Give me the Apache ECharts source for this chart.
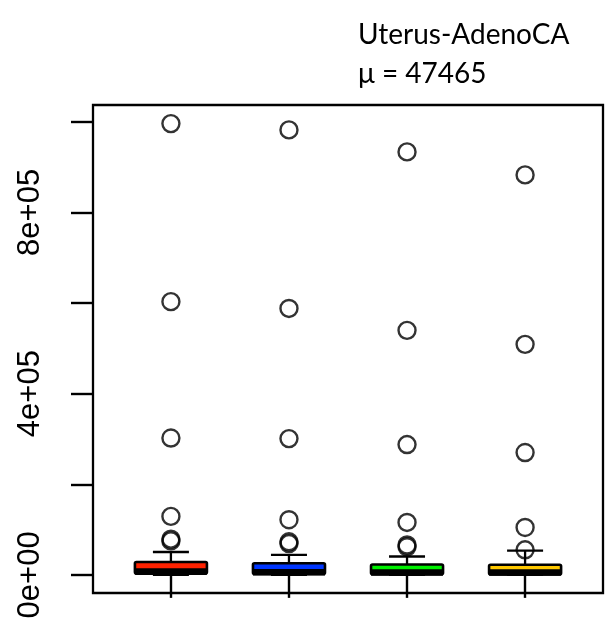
<!DOCTYPE html>
<html>
<head>
<meta charset="utf-8">
<script src="https://cdn.jsdelivr.net/npm/echarts@6/dist/echarts.min.js"></script>
<style>
  html, body { margin: 0; padding: 0; background: #fff; }
  #chart { width: 606px; height: 630px; }
</style>
</head>
<body>
<div id="chart"></div>
<script>
// Group positions along the x axis and their box fill colours
const groups = [1, 2, 3, 4];
const boxColors = ['#ff2200', '#0036ff', '#00f000', '#ffc800'];

// Five-number summaries per group: lower whisker, Q1, median, Q3, upper whisker
const lowerWhisker = [0, 0, 0, 0];
const q1Values = [2800, 2200, 1500, 1000];
const medianValues = [7500, 6000, 5500, 5000];
const q3Values = [28500, 25500, 23000, 22500];
const upperWhisker = [50500, 44000, 40500, 53500];

// Outlying points per group
const outliers = [
  [75000, 79000, 129000, 302000, 603000, 996000],
  [69000, 73000, 121700, 300800, 588000, 982000],
  [62000, 66000, 115700, 287600, 539700, 933500],
  [55300, 104600, 270000, 508800, 882700]
];

// Y axis ticks and the labels printed on some of them
const yTicks = [0, 200000, 400000, 600000, 800000, 1000000];
const yLabelTicks = [0, 400000, 800000];
const yLabelText = { 0: '0e+00', 400000: '4e+05', 800000: '8e+05' };

const titleLine = 'Uterus-AdenoCA';
const meanLine = 'μ = 47465';

const boxData = groups.map((g, i) => [g, lowerWhisker[i], q1Values[i], medianValues[i], q3Values[i], upperWhisker[i]]);
const pointData = [];
outliers.forEach((vals, i) => vals.forEach(v => pointData.push([groups[i], v])));

const BOX_WIDTH = 0.61;

function renderBox(params, api) {
  const x = api.value(0);
  const lo = api.coord([x, api.value(1)]);
  const q1 = api.coord([x, api.value(2)]);
  const med = api.coord([x, api.value(3)]);
  const q3 = api.coord([x, api.value(4)]);
  const hi = api.coord([x, api.value(5)]);
  const half = api.size([BOX_WIDTH, 0])[0] / 2;
  const staple = half / 2;
  const cx = q1[0];
  const line = { stroke: '#000', lineWidth: 2.3 };
  return {
    type: 'group',
    children: [
      { type: 'line', shape: { x1: cx, y1: q3[1], x2: cx, y2: hi[1] }, style: line },
      { type: 'line', shape: { x1: cx - staple, y1: hi[1], x2: cx + staple, y2: hi[1] }, style: line },
      { type: 'line', shape: { x1: cx, y1: q1[1], x2: cx, y2: lo[1] }, style: line },
      { type: 'line', shape: { x1: cx - staple, y1: lo[1], x2: cx + staple, y2: lo[1] }, style: line },
      {
        type: 'rect',
        shape: { x: cx - half, y: q3[1], width: half * 2, height: q1[1] - q3[1], r: 1.5 },
        style: { fill: boxColors[params.dataIndex], stroke: '#000', lineWidth: 2.6 }
      },
      { type: 'line', shape: { x1: cx - half, y1: med[1], x2: cx + half, y2: med[1] }, style: { stroke: '#000', lineWidth: 6.5 } }
    ]
  };
}

const chart = echarts.init(document.getElementById('chart'), null, { renderer: 'canvas' });
chart.setOption({
  animation: false,
  backgroundColor: '#fff',
  grid: {
    left: 93, top: 105, width: 510, height: 488,
    show: true, borderColor: '#000', borderWidth: 2.3, backgroundColor: 'transparent'
  },
  xAxis: {
    type: 'value', min: 0.34, max: 4.66,
    axisLine: { show: false },
    splitLine: { show: false },
    axisLabel: { show: false },
    axisTick: { show: true, length: 23, customValues: groups, lineStyle: { color: '#000', width: 2.4 } }
  },
  yAxis: {
    type: 'value', min: -40000, max: 1037000,
    axisLine: { show: false },
    splitLine: { show: false },
    axisTick: { show: true, length: 22, customValues: yTicks, lineStyle: { color: '#000', width: 2.4 } },
    axisLabel: {
      show: true, customValues: yLabelTicks, rotate: 90, margin: 47,
      fontFamily: 'Liberation Sans', fontSize: 31, color: '#000',
      formatter: v => yLabelText[v]
    }
  },
  graphic: [
    {
      type: 'text', left: 358, top: 15,
      style: { text: titleLine + '\n' + meanLine, fontFamily: 'Lato', fontSize: 28, lineHeight: 39, fill: '#000' }
    }
  ],
  series: [
    { type: 'custom', renderItem: renderBox, data: boxData, z: 2, clip: false },
    {
      type: 'scatter', data: pointData, symbol: 'circle', symbolSize: 17, z: 3,
      itemStyle: { color: 'transparent', borderColor: '#000', borderWidth: 2.4 }
    }
  ]
});
</script>
</body>
</html>
